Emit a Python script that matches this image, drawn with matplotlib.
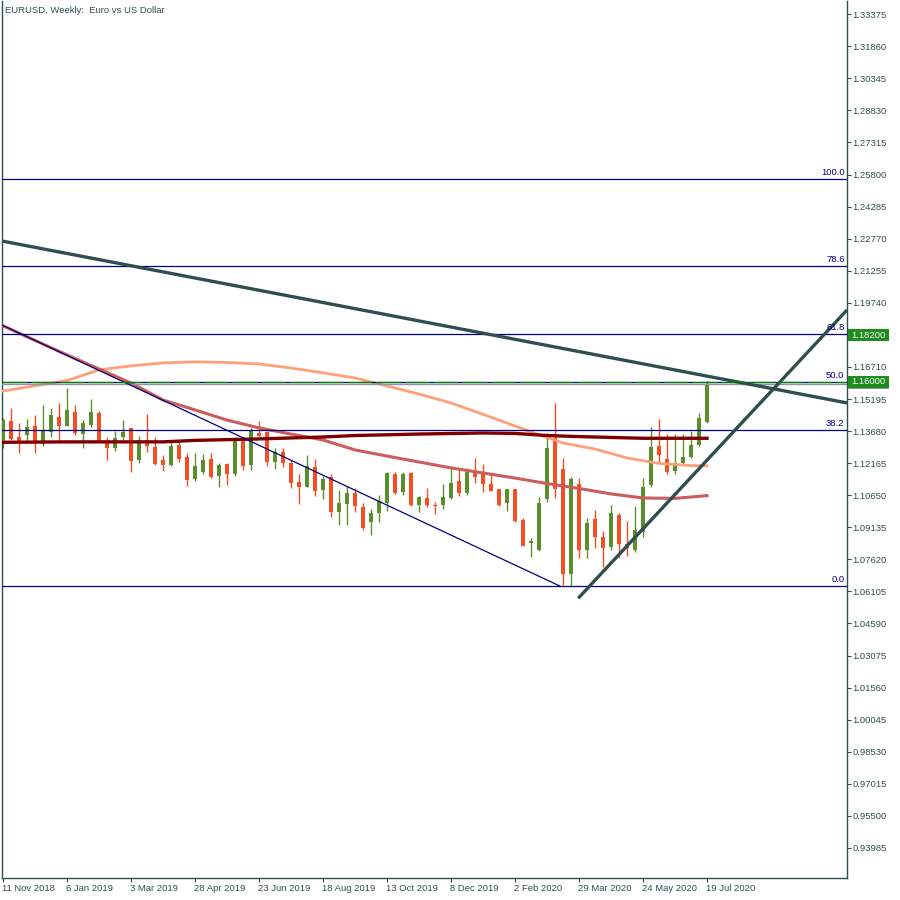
import matplotlib
matplotlib.use('Agg')
import matplotlib.pyplot as plt
import matplotlib.transforms as mtransforms
from matplotlib.patches import Rectangle
import numpy as np

# weekly EURUSD candles, one per week from 11 Nov 2018 to 19 Jul 2020
opens = [1.1318, 1.1416, 1.1342, 1.1350, 1.1392, 1.1306, 1.1365, 1.1435, 1.1394, 1.1458,
         1.1356, 1.1398, 1.1455, 1.1323, 1.1290, 1.1339, 1.1383, 1.1231, 1.1326, 1.1293,
         1.1231, 1.1209, 1.1302, 1.1244, 1.1143, 1.1176, 1.1235, 1.1156, 1.1213, 1.1167,
         1.1326, 1.1209, 1.1359, 1.1364, 1.1222, 1.1271, 1.1219, 1.1129, 1.1105, 1.1200,
         1.1091, 1.1150, 1.0987, 1.1025, 1.1076, 1.1008, 1.0940, 1.0982, 1.1030, 1.1165,
         1.1082, 1.1169, 1.1019, 1.1050, 1.1019, 1.1019, 1.1050, 1.1132, 1.1077, 1.1176,
         1.1169, 1.1118, 1.1094, 1.1030, 1.1094, 1.0948, 1.0838, 1.0806, 1.1049, 1.1334,
         1.1190, 1.0694, 1.1119, 1.0808, 1.0953, 1.0869, 1.0822, 1.0972, 1.0833, 1.0806,
         1.0893, 1.1113, 1.1298, 1.1236, 1.1181, 1.1216, 1.1244, 1.1302, 1.1412]
highs = [1.1430, 1.1479, 1.1408, 1.1425, 1.1446, 1.1493, 1.1477, 1.1502, 1.1573, 1.1491,
         1.1419, 1.1520, 1.1463, 1.1342, 1.1370, 1.1420, 1.1384, 1.1345, 1.1450, 1.1340,
         1.1255, 1.1326, 1.1326, 1.1265, 1.1266, 1.1260, 1.1263, 1.1217, 1.1219, 1.1340,
         1.1342, 1.1381, 1.1416, 1.1370, 1.1290, 1.1287, 1.1231, 1.1165, 1.1255, 1.1235,
         1.1156, 1.1165, 1.1090, 1.1109, 1.1098, 1.1027, 1.0999, 1.1066, 1.1176, 1.1176,
         1.1176, 1.1176, 1.1061, 1.1098, 1.1034, 1.1118, 1.1203, 1.1188, 1.1192, 1.1242,
         1.1211, 1.1171, 1.1096, 1.1096, 1.1096, 1.0956, 1.0862, 1.1058, 1.1358, 1.1499,
         1.1241, 1.1153, 1.1148, 1.0956, 1.0995, 1.0897, 1.1019, 1.0980, 1.0945, 1.1014,
         1.1148, 1.1389, 1.1425, 1.1354, 1.1354, 1.1354, 1.1370, 1.1455, 1.1605]
lows = [1.1290, 1.1326, 1.1266, 1.1318, 1.1266, 1.1298, 1.1342, 1.1315, 1.1392, 1.1350,
        1.1290, 1.1389, 1.1316, 1.1231, 1.1275, 1.1326, 1.1176, 1.1219, 1.1271, 1.1208,
        1.1181, 1.1205, 1.1223, 1.1110, 1.1134, 1.1165, 1.1146, 1.1105, 1.1115, 1.1156,
        1.1184, 1.1182, 1.1340, 1.1205, 1.1189, 1.1200, 1.1098, 1.1024, 1.1104, 1.1063,
        1.1049, 1.0964, 1.0924, 1.0924, 1.0987, 1.0901, 1.0877, 1.0940, 1.0992, 1.1071,
        1.1066, 1.1014, 1.0987, 1.1008, 1.0976, 1.0999, 1.1048, 1.1061, 1.1066, 1.1121,
        1.1082, 1.1083, 1.1014, 1.0992, 1.0940, 1.0823, 1.0775, 1.0803, 1.1034, 1.1053,
        1.0641, 1.0633, 1.0767, 1.0767, 1.0814, 1.0727, 1.0806, 1.0767, 1.0778, 1.0798,
        1.0869, 1.1102, 1.1216, 1.1165, 1.1165, 1.1214, 1.1240, 1.1298, 1.1405]
closes = [1.1420, 1.1331, 1.1313, 1.1387, 1.1306, 1.1370, 1.1444, 1.1394, 1.1468, 1.1360,
          1.1408, 1.1458, 1.1318, 1.1288, 1.1334, 1.1365, 1.1227, 1.1326, 1.1299, 1.1213,
          1.1209, 1.1298, 1.1238, 1.1138, 1.1203, 1.1231, 1.1153, 1.1208, 1.1167, 1.1337,
          1.1203, 1.1370, 1.1345, 1.1223, 1.1271, 1.1219, 1.1124, 1.1104, 1.1203, 1.1086,
          1.1142, 1.0987, 1.1028, 1.1074, 1.1014, 1.0909, 1.0980, 1.1038, 1.1171, 1.1077,
          1.1165, 1.1019, 1.1055, 1.1019, 1.1016, 1.1055, 1.1124, 1.1077, 1.1176, 1.1153,
          1.1117, 1.1085, 1.1019, 1.1094, 1.0945, 1.0825, 1.0849, 1.1027, 1.1288, 1.1096,
          1.0694, 1.1143, 1.0808, 1.0934, 1.0869, 1.0817, 1.0981, 1.0836, 1.0817, 1.0901,
          1.1105, 1.1293, 1.1255, 1.1176, 1.1217, 1.1244, 1.1302, 1.1430, 1.1589]

# moving averages, read at sampled weeks
ma_fast_idx = [0, 8, 12, 16, 20, 24, 28, 32, 36, 40, 44, 48, 52, 56, 62, 66, 70, 74, 78, 82, 86, 88]
ma_fast = [1.1557, 1.1607, 1.1657, 1.1676, 1.1690, 1.1695, 1.1692, 1.1685, 1.1666, 1.1643, 1.1619,
           1.1581, 1.1543, 1.1501, 1.1420, 1.1364, 1.1312, 1.1283, 1.1241, 1.1215, 1.1205, 1.1204]
ma_mid_idx = [0, 8, 16, 20, 24, 28, 32, 36, 40, 44, 48, 52, 56, 60, 64, 68, 72, 76, 80, 84, 88]
ma_mid = [1.1865, 1.1728, 1.1595, 1.1515, 1.1468, 1.1420, 1.1383, 1.1354, 1.1326, 1.1279, 1.1250,
          1.1222, 1.1194, 1.1170, 1.1146, 1.1120, 1.1097, 1.1071, 1.1052, 1.1050, 1.1063]
ma_slow_idx = [0, 8, 20, 24, 32, 40, 44, 52, 60, 64, 68, 72, 76, 80, 88]
ma_slow = [1.1315, 1.1317, 1.1317, 1.1324, 1.1331, 1.1340, 1.1347, 1.1354, 1.1359, 1.1357,
           1.1347, 1.1342, 1.1338, 1.1334, 1.1334]

# fibonacci retracement and other objects
fib_low = 1.0636
fib_high = 1.2560
fib_levels = [0.0, 38.2, 50.0, 61.8, 78.6, 100.0]
hline_labels = [1.18200, 1.16000]
green_line = 1.16000
last_price = 1.1589
down_trend = [(-0.125, 1.2266), (105.5, 1.1501)]
up_trend = [(71.9, 1.0578), (105.5, 1.1940)]
thin_trend = [(-0.125, 1.1869), (69.6, 1.0636)]

ytick_vals = [1.33375, 1.31860, 1.30345, 1.28830, 1.27315, 1.25800, 1.24285, 1.22770, 1.21255,
              1.19740, 1.16710, 1.15195, 1.13680, 1.12165, 1.10650, 1.09135, 1.07620, 1.06105,
              1.04590, 1.03075, 1.01560, 1.00045, 0.98530, 0.97015, 0.95500, 0.93985]
xtick_idx = [0, 8, 16, 24, 32, 40, 48, 56, 64, 72, 80, 88]
xtick_labels = ['11 Nov 2018', '6 Jan 2019', '3 Mar 2019', '28 Apr 2019', '23 Jun 2019',
                '18 Aug 2019', '13 Oct 2019', '8 Dec 2019', '2 Feb 2020', '29 Mar 2020',
                '24 May 2020', '19 Jul 2020']

UP = '#5A8F2E'
DOWN = '#F44E25'
NAVY = '#000080'
SLATE = '#2F4F4F'
FS = 6.8

plt.rcParams['font.family'] = ['Liberation Sans', 'DejaVu Sans']

fig = plt.figure(figsize=(9, 9), dpi=100)
ax = fig.add_axes([2 / 900, 22 / 900, 845 / 900, 877 / 900])
ax.set_xlim(-0.125, 105.5)
ax.set_ylim(0.92564, 1.3400)

x = np.arange(len(opens))
o = np.array(opens)
c = np.array(closes)
cols = [UP if cc >= oo else DOWN for oo, cc in zip(o, c)]
ax.vlines(x, lows, highs, colors=cols, linewidth=1.0, zorder=2)
ax.bar(x, np.maximum(np.abs(c - o), 0.0002), bottom=np.minimum(o, c), width=0.62,
       color=cols, linewidth=0, zorder=3)

# moving averages
ax.plot(ma_fast_idx, ma_fast, color='#FFA07A', lw=2.0, zorder=4)
ax.plot(ma_mid_idx, ma_mid, color='#CD5C5C', lw=2.2, zorder=4)
ax.plot(ma_slow_idx, ma_slow, color='#800000', lw=2.4, zorder=4)

blend = mtransforms.blended_transform_factory(ax.transAxes, ax.transData)

# bid line
ax.axhline(last_price, color='#8C96A0', lw=1.0, zorder=5)

# fibonacci levels
for lv in fib_levels:
    price = fib_low + (fib_high - fib_low) * lv / 100.0
    ax.plot([-0.125, 105.5], [price, price], color=NAVY, lw=0.9, zorder=6)
    ax.annotate('%.1f' % lv, xy=(0.997, price), xycoords=blend, xytext=(0, 1.5),
                textcoords='offset points', ha='right', va='bottom',
                fontsize=FS, color=NAVY, zorder=7)

# green horizontal line at 1.16, dashed over the fib 50 line
ax.plot([-0.125, 105.5], [green_line, green_line], color='#008000', lw=0.9, zorder=6.5,
        dashes=(20, 3))

# trend lines
ax.plot(*zip(*thin_trend), color=NAVY, lw=0.9, zorder=6)
ax.plot(*zip(*down_trend), color=SLATE, lw=2.4, zorder=6, solid_capstyle='butt')
ax.plot(*zip(*up_trend), color=SLATE, lw=2.4, zorder=6, solid_capstyle='butt')

# axes cosmetics
ax.spines['top'].set_visible(False)
for side in ['left', 'right', 'bottom']:
    ax.spines[side].set_color(SLATE)
    ax.spines[side].set_linewidth(1.0)

ax.yaxis.tick_right()
ax.set_yticks(ytick_vals)
ax.set_yticklabels(['%.5f' % v for v in ytick_vals])
ax.tick_params(axis='y', direction='out', length=3, width=0.8, color=SLATE,
               labelsize=FS, labelcolor=SLATE, pad=1)
ax.set_xticks(xtick_idx)
ax.set_xticklabels(xtick_labels, ha='left')
ax.tick_params(axis='x', direction='out', length=3, width=0.8, color=SLATE,
               labelsize=FS, labelcolor=SLATE, pad=1)
for lab in ax.get_xticklabels():
    lab.set_transform(lab.get_transform() + mtransforms.ScaledTranslation(-1 / 100, 0, fig.dpi_scale_trans))

# price labels on the right axis: grey bid box partly hidden under the green label
box_w = 0.048
box_h = 0.0057
ax.add_patch(Rectangle((1.0015, 1.1566), box_w, box_h, transform=blend,
                       facecolor='#8C96A0', edgecolor='none', clip_on=False, zorder=9))
for lv in hline_labels:
    ax.add_patch(Rectangle((1.0015, lv - box_h / 2), box_w, box_h, transform=blend,
                           facecolor='#1E8C1E', edgecolor='none', clip_on=False, zorder=10))
    ax.text(1.0015 + box_w / 2, lv, '%.5f' % lv, transform=blend, ha='center', va='center',
            fontsize=FS, color='white', clip_on=False, zorder=11)

ax.text(0.004, 0.994, 'EURUSD, Weekly:  Euro vs US Dollar', transform=ax.transAxes,
        ha='left', va='top', fontsize=FS, color=SLATE)

fig.savefig('out.png', dpi=100, facecolor='white')
